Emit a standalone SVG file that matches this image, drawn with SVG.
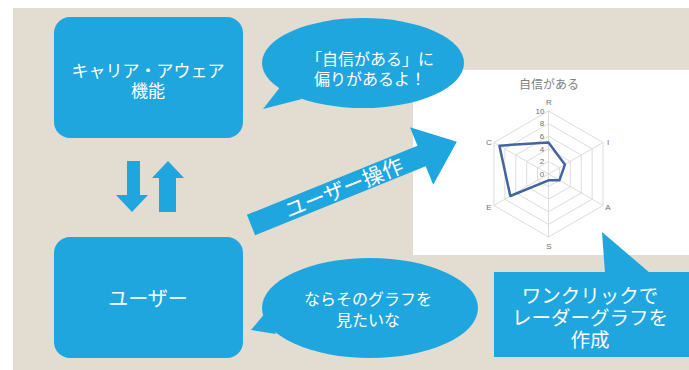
<svg xmlns="http://www.w3.org/2000/svg" width="689" height="370" viewBox="0 0 689 370">
<style>
.blue{fill:#1fa6de}
.t{font-family:"Liberation Sans","Noto Sans CJK JP",sans-serif;fill:#ffffff;text-anchor:middle}
.grid{fill:none;stroke:#dcdcdc;stroke-width:1}
.ax{font-family:"Liberation Sans",Arial,sans-serif;font-size:8px;fill:#707070;text-anchor:middle}
</style>
<rect x="0" y="0" width="689" height="370" fill="#ffffff"/>
<rect x="13" y="8" width="676" height="362" fill="#e2dcd1"/>

<g id="chart">
<rect x="413" y="70" width="276" height="185" fill="#ffffff"/>
<text x="549" y="89" font-family="Liberation Sans,Noto Sans CJK JP,sans-serif" font-size="12" fill="#808080" text-anchor="middle">自信がある</text>
<g transform="translate(548.5,174)">
<polygon class="grid" points="0,-12.6 10.91,-6.3 10.91,6.3 0,12.6 -10.91,6.3 -10.91,-6.3"/>
<polygon class="grid" points="0,-25.2 21.82,-12.6 21.82,12.6 0,25.2 -21.82,12.6 -21.82,-12.6"/>
<polygon class="grid" points="0,-37.8 32.74,-18.9 32.74,18.9 0,37.8 -32.74,18.9 -32.74,-18.9"/>
<polygon class="grid" points="0,-50.4 43.65,-25.2 43.65,25.2 0,50.4 -43.65,25.2 -43.65,-25.2"/>
<polygon class="grid" points="0,-63 54.56,-31.5 54.56,31.5 0,63 -54.56,31.5 -54.56,-31.5"/>
<path class="grid" d="M0,0V-63M0,0L54.56,-31.5M0,0L54.56,31.5M0,0V63M0,0L-54.56,31.5M0,0L-54.56,-31.5"/>
</g>
<g class="ax">
<text x="540" y="114">10</text>
<text x="542" y="126">8</text>
<text x="542" y="139">6</text>
<text x="542" y="152">4</text>
<text x="542" y="164">2</text>
<text x="542" y="177">0</text>
<text x="549" y="105">R</text>
<text x="608" y="145">I</text>
<text x="608" y="210">A</text>
<text x="549" y="249">S</text>
<text x="489" y="210">E</text>
<text x="489" y="145">C</text>
</g>
<polygon points="548.5,142.5 564.9,164.55 559.4,180.3 548.5,180.3 510.3,196 499.4,145.65" fill="none" stroke="#44649f" stroke-width="2.5" stroke-linejoin="round"/>
</g>

<g id="career">
<rect class="blue" x="54" y="17" width="189" height="121" rx="16"/>
<text class="t" font-size="17"><tspan x="148" y="77">キャリア・アウェア</tspan><tspan x="148" y="97">機能</tspan></text>
</g>

<g id="user">
<rect class="blue" x="54" y="237" width="189" height="121" rx="16"/>
<text class="t" x="148" y="306" font-size="20">ユーザー</text>
</g>

<g id="bubble1">
<ellipse class="blue" cx="363" cy="63" rx="101" ry="45"/>
<polygon class="blue" points="263,109 281,86 302,99"/>
<text class="t" font-size="16"><tspan x="370" y="65">「自信がある」に</tspan><tspan x="370" y="85">偏りがあるよ！</tspan></text>
</g>

<g id="bubble2">
<ellipse class="blue" cx="370" cy="308" rx="108" ry="50"/>
<polygon class="blue" points="251,330 266,312 276,334"/>
<text class="t" font-size="16"><tspan x="368" y="305">ならそのグラフを</tspan><tspan x="368" y="326">見たいな</tspan></text>
</g>

<g id="callout">
<rect class="blue" x="494" y="272" width="195" height="85"/>
<polygon class="blue" points="605,273 602,232 650,273"/>
<text class="t" font-size="19.5"><tspan x="590" y="303">ワンクリックで</tspan><tspan x="590" y="325">レーダーグラフを</tspan><tspan x="590" y="347">作成</tspan></text>
</g>

<g id="connectors">
<polygon class="blue" points="127,161 140,161 140,195 148,195 132,212 116,195 127,195"/>
<polygon class="blue" points="168,161 184,178 176,178 176,212 159,212 159,178 152,178"/>
<g transform="translate(251,225) rotate(-22)">
<polygon class="blue" points="0,-11 184,-11 184,-31 222,0 184,31 184,11 0,11"/>
<text class="t" x="100" y="8" font-size="21">ユーザー操作</text>
</g>
</g>
</svg>
